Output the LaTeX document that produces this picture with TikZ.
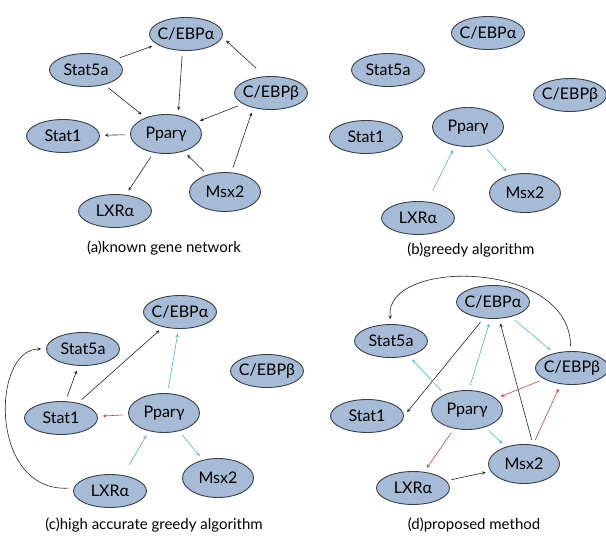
\documentclass[tikz,border=0pt]{standalone}
\usepackage{fontspec}
\setmainfont{Lato}
\usetikzlibrary{arrows,shapes.geometric}
\definecolor{genefill}{RGB}{166,188,214}
\definecolor{geneedge}{RGB}{55,62,76}
\definecolor{linkblack}{RGB}{35,35,35}
\definecolor{linkcyan}{RGB}{72,184,206}
\definecolor{linkred}{RGB}{214,58,58}
\tikzset{
  gene/.style={ellipse, draw=geneedge, fill=genefill, line width=0.9pt,
    minimum width=73pt, minimum height=33pt, inner xsep=-8pt, inner ysep=0pt,
    font=\fontsize{16}{18}\selectfont},
  tall/.style={minimum width=71pt, minimum height=39pt},
  panelcaption/.style={font=\fontsize{15}{17}\selectfont},
  known/.style={every edge/.style={draw=linkblack}},
  cyanlink/.style={every edge/.style={draw=linkcyan}},
  redlink/.style={every edge/.style={draw=linkred}},
  far/.style={shorten <=12pt}
}
\begin{document}
\begin{tikzpicture}[x=1pt, y=-1pt, ->, >=stealth, shorten >=5pt, shorten <=5pt, semithick]
  \useasboundingbox (0,0) rectangle (606,536);

  % (a)
  \node[gene]       (a-ca)  at (186,34)  {C/EBPα};
  \node[gene]       (a-s5)  at (86,70)   {Stat5a};
  \node[gene]       (a-cb)  at (271,93)  {C/EBPβ};
  \node[gene]       (a-st1) at (63,136)  {Stat1};
  \node[gene,tall]  (a-p)   at (166,134) {Pparγ};
  \node[gene]       (a-lx)  at (115,211) {LXRα};
  \node[gene,tall]  (a-m)   at (225,192) {Msx2};
  \node[panelcaption] (a-cap) at (164,248) {(a)known gene network};

  \path[known]
    (a-s5) edge (a-ca)
           edge (a-p)
    (a-ca.258) edge (a-p.57)
    (a-cb.110) edge[far] (a-ca.-5)
    (a-cb) edge (a-p)
    (a-p) edge (a-st1)
          edge (a-lx)
    (a-m) edge (a-p)
    (a-m.72) edge (a-cb.220);

  % (b)
  \node[gene]       (b-ca)  at (488,33)  {C/EBPα};
  \node[gene]       (b-s5)  at (388,70)  {Stat5a};
  \node[gene]       (b-cb)  at (570,95)  {C/EBPβ};
  \node[gene]       (b-st1) at (366,137) {Stat1};
  \node[gene,tall]  (b-p)   at (468,127) {Pparγ};
  \node[gene]       (b-lx)  at (418,218) {LXRα};
  \node[gene,tall]  (b-m)   at (525,193) {Msx2};
  \node[panelcaption] (b-cap) at (471,250) {(b)greedy algorithm};

  \path[cyanlink]
    (b-lx.60) edge[far] (b-p.235)
    (b-p) edge (b-m);

  % (c)
  \node[gene]       (c-ca)  at (180,312) {C/EBPα};
  \node[gene]       (c-s5)  at (83,349)  {Stat5a};
  \node[gene]       (c-cb)  at (267,371) {C/EBPβ};
  \node[gene]       (c-st1) at (61,418)  {Stat1};
  \node[gene,tall]  (c-p)   at (164,413) {Pparγ};
  \node[gene,tall]  (c-m)   at (218,478) {Msx2};
  \node[gene]       (c-lx)  at (110,491) {LXRα};
  \node[panelcaption] (c-cap) at (154,525) {(c)high accurate greedy algorithm};

  \draw[linkblack] (c-lx.175) .. controls +(-85,5) and +(-55,0) .. (c-s5.west);
  \path[known]
    (c-st1.75) edge (c-s5.255)
    (c-st1) edge (c-ca);
  \path[cyanlink]
    (c-p.80) edge (c-ca.265)
    (c-lx.50) edge[far] (c-p.230)
    (c-p) edge (c-m);
  \path[redlink]
    (c-p) edge (c-st1);

  % (d)
  \node[gene]       (d-ca)  at (493,302) {C/EBPα};
  \node[gene]       (d-s5)  at (391,341) {Stat5a};
  \node[gene]       (d-cb)  at (572,368) {C/EBPβ};
  \node[gene]       (d-st1) at (367,416) {Stat1};
  \node[gene,tall]  (d-p)   at (467,410) {Pparγ};
  \node[gene,tall]  (d-m)   at (524,464) {Msx2};
  \node[gene]       (d-lx)  at (413,488) {LXRα};
  \node[panelcaption] (d-cap) at (474,525) {(d)proposed method};

  \draw[linkblack] (d-cb.95) .. controls +(0,-92) and +(-8,-66) .. (d-s5.north);
  \path[known]
    (d-ca.240) edge (d-st1.east)
    (d-m.65) edge (d-ca.290)
    (d-lx) edge (d-m);
  \path[cyanlink]
    (d-p.145) edge (d-s5.-40)
    (d-p.85) edge (d-ca.262)
    (d-ca) edge (d-cb)
    (d-p) edge (d-m);
  \path[redlink]
    (d-cb) edge (d-p)
    (d-m.65) edge (d-cb.235)
    (d-p) edge (d-lx);
\end{tikzpicture}
\end{document}
